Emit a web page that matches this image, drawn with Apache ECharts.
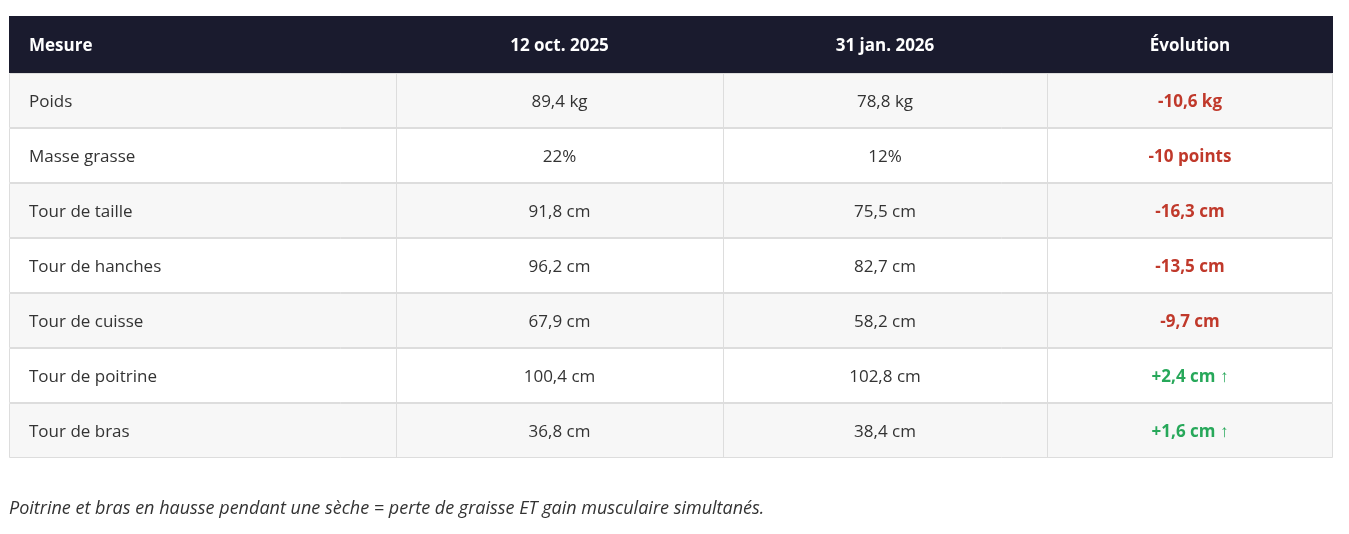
<!DOCTYPE html>
<html>
<head>
<meta charset="utf-8">
<script src="https://cdn.jsdelivr.net/npm/echarts@6/dist/echarts.min.js"></script>
<style>html,body{margin:0;padding:0;background:#fff}#main{width:1349px;height:534px}</style>
</head>
<body>
<div id="main"></div>
<script>
var headers = ['Mesure', '12 oct. 2025', '31 jan. 2026', 'Évolution'];
var mesures = ['Poids', 'Masse grasse', 'Tour de taille', 'Tour de hanches', 'Tour de cuisse', 'Tour de poitrine', 'Tour de bras'];
var avant = ['89,4 kg', '22%', '91,8 cm', '96,2 cm', '67,9 cm', '100,4 cm', '36,8 cm'];
var apres = ['78,8 kg', '12%', '75,5 cm', '82,7 cm', '58,2 cm', '102,8 cm', '38,4 cm'];
var evolution = ['-10,6 kg', '-10 points', '-16,3 cm', '-13,5 cm', '-9,7 cm', '+2,4 cm ↑', '+1,6 cm ↑'];
var note = 'Poitrine et bras en hausse pendant une sèche = perte de graisse ET gain musculaire simultanés.';

var colX = [9, 396, 723, 1047, 1333];
var top0 = 16, headH = 57, rowH = 55;
var font = '"Open Sans", "Noto Sans", sans-serif';

var g = [];
g.push({type: 'rect', shape: {x: colX[0], y: top0, width: colX[4] - colX[0], height: headH}, style: {fill: '#1a1b2e'}});
headers.forEach(function (h, i) {
    var left = i === 0;
    g.push({type: 'text', x: left ? colX[0] + 20 : (colX[i] + colX[i + 1]) / 2, y: top0 + headH / 2 + 2,
        style: {text: h, fill: '#fff', font: 'bold 17px ' + font, align: left ? 'left' : 'center', verticalAlign: 'middle'}});
});
mesures.forEach(function (m, r) {
    var y = top0 + headH + r * rowH;
    g.push({type: 'rect', shape: {x: colX[0] + 0.5, y: y + 0.5, width: colX[4] - colX[0] - 1, height: rowH - 1},
        style: {fill: r % 2 === 0 ? '#f7f7f7' : '#fff', stroke: '#dddddd', lineWidth: 1}});
    for (var c = 1; c < 4; c++) {
        g.push({type: 'line', shape: {x1: colX[c] + 0.5, y1: y, x2: colX[c] + 0.5, y2: y + rowH}, style: {stroke: '#dddddd', lineWidth: 1}});
    }
    var cy = y + rowH / 2 + 2;
    var pos = evolution[r].charAt(0) === '+';
    g.push({type: 'text', x: colX[0] + 20, y: cy, style: {text: m, fill: '#333', font: '17px ' + font, align: 'left', verticalAlign: 'middle'}});
    g.push({type: 'text', x: (colX[1] + colX[2]) / 2, y: cy, style: {text: avant[r], fill: '#333', font: '17px ' + font, align: 'center', verticalAlign: 'middle'}});
    g.push({type: 'text', x: (colX[2] + colX[3]) / 2, y: cy, style: {text: apres[r], fill: '#333', font: '17px ' + font, align: 'center', verticalAlign: 'middle'}});
    g.push({type: 'text', x: (colX[3] + colX[4]) / 2, y: cy, style: {text: evolution[r], fill: pos ? '#27a85a' : '#c0392b', font: 'bold 17px ' + font, align: 'center', verticalAlign: 'middle'}});
});
g.push({type: 'text', x: colX[0], y: 509, style: {text: note, fill: '#333', font: 'italic 18px ' + font, align: 'left', verticalAlign: 'middle'}});

var chart = echarts.init(document.getElementById('main'));
chart.setOption({animation: false, graphic: g});
</script>
</body>
</html>
